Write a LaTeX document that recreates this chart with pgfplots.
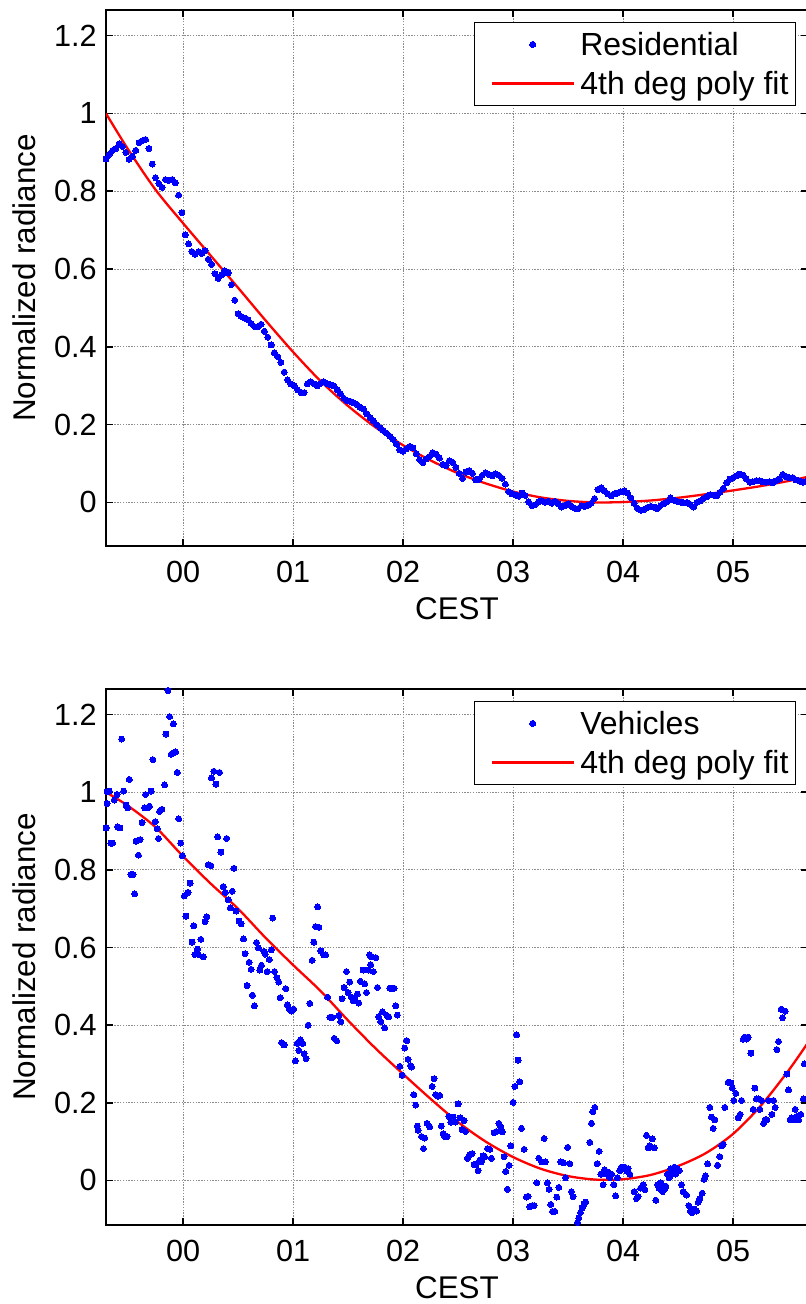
\documentclass[border=0pt]{standalone}
\usepackage{fontspec}
\setmainfont{Liberation Sans}
\usepackage{pgfplots}
\pgfplotsset{compat=1.18}
\definecolor{mblue}{RGB}{0,0,255}
\definecolor{mred}{RGB}{255,0,0}
\pgfplotsset{
  mystyle/.style={
    scale only axis,
    width=351pt, height=268pt,
    xmin=-0.70, xmax=5.68,
    xtick={0,1,2,3,4,5},
    xticklabels={00,01,02,03,04,05},
    ytick={0,0.2,0.4,0.6,0.8,1,1.2},
    yticklabels={0,0.2,0.4,0.6,0.8,1,1.2},
    grid=major,
    grid style={black!45, line width=0.4pt, dash pattern=on 0.7pt off 0.7pt},
    tick align=inside,
    major tick length=3.5pt,
    tick style={black, line width=0.8pt},
    axis line style={black, line width=0.9pt},
    tick label style={font=\fontsize{15.3}{18}\selectfont},
    xticklabel style={anchor=base, yshift=-18.3pt},
    yticklabel style={anchor=east, inner sep=0pt, xshift=-4.5pt},
    every axis x label/.style={at={(axis description cs:0.5,-0.1364)}, anchor=base, font=\fontsize{15.7}{18}\selectfont},
    every axis y label/.style={at={(axis description cs:-0.1011,0.5)}, anchor=base, rotate=90, font=\fontsize{15.7}{18}\selectfont},
    xlabel={CEST}, ylabel={Normalized radiance},
    legend cell align=left,
    legend style={at={(0.983,0.978)}, anchor=north east, draw=black, line width=0.6pt, fill=white,
      inner xsep=1.75pt, inner ysep=1.25pt, font=\fontsize{16}{19}\selectfont,
      nodes={inner sep=1.75pt, text height=13.5pt, text depth=2.5pt}, column sep=1pt},
    legend image code/.code={\path (0pt,0pt); \draw[mark repeat=2,mark phase=2,#1] plot coordinates {(6.25pt,0pt) (26.75pt,0pt) (47.25pt,0pt)};},
  },
  scat/.style={only marks, mark=*, mark size=1.5pt, color=mblue, mark options={draw=mblue, fill=mblue, line width=0pt}},
  fit/.style={mred, line width=1.15pt, smooth, no marks},
}
\begin{document}
\begin{tikzpicture}
\begin{axis}[mystyle, at={(53pt,-5pt)}, anchor=north west, ymin=-0.112, ymax=1.266]
\addplot[scat] coordinates {
(-0.70,0.883) (-0.67,0.895) (-0.64,0.905) (-0.61,0.910) (-0.58,0.922) (-0.55,0.915) (-0.52,0.900) (-0.49,0.882)
(-0.46,0.890) (-0.43,0.905) (-0.40,0.925) (-0.37,0.930) (-0.34,0.933) (-0.31,0.910) (-0.28,0.870) (-0.25,0.835)
(-0.22,0.820) (-0.19,0.810) (-0.16,0.830) (-0.13,0.828) (-0.10,0.830) (-0.07,0.822) (-0.04,0.790) (-0.01,0.745)
(0.02,0.688) (0.05,0.665) (0.08,0.645) (0.11,0.638) (0.14,0.645) (0.17,0.640) (0.20,0.647) (0.23,0.625)
(0.26,0.612) (0.29,0.588) (0.32,0.576) (0.35,0.585) (0.38,0.595) (0.41,0.590) (0.44,0.560) (0.47,0.520)
(0.50,0.485) (0.53,0.478) (0.56,0.474) (0.59,0.470) (0.62,0.460) (0.65,0.452) (0.68,0.452) (0.71,0.458)
(0.74,0.440) (0.77,0.425) (0.80,0.405) (0.83,0.385) (0.86,0.375) (0.89,0.360) (0.92,0.335) (0.95,0.315)
(0.98,0.305) (1.01,0.300) (1.04,0.290) (1.07,0.283) (1.10,0.282) (1.13,0.305) (1.16,0.310) (1.19,0.305)
(1.22,0.300) (1.25,0.306) (1.28,0.310) (1.31,0.305) (1.34,0.302) (1.37,0.300) (1.40,0.290) (1.43,0.280)
(1.46,0.268) (1.49,0.262) (1.52,0.260) (1.55,0.256) (1.58,0.252) (1.61,0.245) (1.64,0.240) (1.67,0.228)
(1.70,0.218) (1.73,0.210) (1.76,0.200) (1.79,0.192) (1.82,0.185) (1.85,0.178) (1.88,0.170) (1.91,0.162)
(1.94,0.150) (1.97,0.135) (2.00,0.132) (2.03,0.138) (2.06,0.144) (2.09,0.140) (2.12,0.125) (2.15,0.110)
(2.18,0.102) (2.21,0.112) (2.24,0.118) (2.27,0.128) (2.30,0.124) (2.33,0.114) (2.36,0.098) (2.39,0.095)
(2.42,0.107) (2.45,0.103) (2.48,0.090) (2.51,0.075) (2.54,0.062) (2.57,0.078) (2.60,0.082) (2.63,0.075)
(2.66,0.058) (2.69,0.060) (2.72,0.070) (2.75,0.076) (2.78,0.072) (2.81,0.068) (2.84,0.074) (2.87,0.070)
(2.90,0.062) (2.93,0.047) (2.96,0.028) (2.99,0.022) (3.02,0.019) (3.05,0.016) (3.08,0.024) (3.11,0.018)
(3.14,0.002) (3.17,-0.008) (3.20,-0.006) (3.23,0.002) (3.26,0.004) (3.29,0.001) (3.32,0.003) (3.35,-0.002)
(3.38,0.003) (3.41,-0.004) (3.44,-0.012) (3.47,-0.008) (3.50,-0.004) (3.53,-0.010) (3.56,-0.015) (3.59,-0.016)
(3.62,-0.009) (3.65,-0.010) (3.68,-0.007) (3.71,-0.002) (3.74,0.010) (3.77,0.033) (3.80,0.038) (3.83,0.030)
(3.86,0.022) (3.89,0.017) (3.92,0.022) (3.95,0.024) (3.98,0.027) (4.01,0.030) (4.04,0.024) (4.07,0.012)
(4.10,-0.002) (4.13,-0.015) (4.16,-0.020) (4.19,-0.018) (4.22,-0.013) (4.25,-0.010) (4.28,-0.012) (4.31,-0.016)
(4.34,-0.008) (4.37,-0.003) (4.40,0.002) (4.43,0.012) (4.46,0.006) (4.49,0.003) (4.52,0.001) (4.55,-0.001)
(4.58,0.000) (4.61,-0.005) (4.64,-0.012) (4.67,0.000) (4.70,0.004) (4.73,0.010) (4.76,0.014) (4.79,0.020)
(4.82,0.019) (4.85,0.017) (4.88,0.026) (4.91,0.036) (4.94,0.050) (4.97,0.060) (5.00,0.064) (5.03,0.068)
(5.06,0.073) (5.09,0.070) (5.12,0.060) (5.15,0.052) (5.18,0.053) (5.21,0.056) (5.24,0.056) (5.27,0.053)
(5.30,0.052) (5.33,0.053) (5.36,0.050) (5.39,0.056) (5.42,0.060) (5.45,0.072) (5.48,0.066) (5.51,0.064)
(5.54,0.064) (5.57,0.058) (5.60,0.055) (5.63,0.052) (5.66,0.054)
};
\addlegendentry{Residential}
\addplot[fit] coordinates {
(-0.70,1.000) (-0.50,0.908) (-0.25,0.804) (0.00,0.718) (0.25,0.635) (0.50,0.552)
(0.75,0.468) (1.00,0.387) (1.25,0.312) (1.50,0.248) (1.75,0.193) (2.00,0.147) (2.25,0.108) (2.50,0.075)
(2.75,0.049) (3.00,0.028) (3.25,0.013) (3.50,0.004) (3.75,0.000) (4.00,0.001) (4.25,0.005) (4.50,0.012)
(4.75,0.021) (5.00,0.031) (5.25,0.042) (5.50,0.055) (5.68,0.066)
};
\addlegendentry{4th deg poly fit}
\end{axis}

\begin{axis}[mystyle, at={(53pt,-344.5pt)}, anchor=north west, ymin=-0.115, ymax=1.266]
\addplot[scat] coordinates {
(-0.699,0.908) (-0.69,1.001) (-0.69,0.971) (-0.67,1.003) (-0.655,0.869) (-0.64,0.869) (-0.625,0.980) (-0.60,0.994)
(-0.595,0.911) (-0.573,0.908) (-0.558,1.137) (-0.54,1.003) (-0.518,0.967) (-0.503,0.960) (-0.488,1.033) (-0.473,0.788)
(-0.454,0.788) (-0.439,0.738) (-0.427,0.874) (-0.405,0.838) (-0.39,0.878) (-0.372,0.922) (-0.35,0.960) (-0.341,0.994)
(-0.326,0.960) (-0.305,0.964) (-0.29,1.003) (-0.274,1.084) (-0.253,0.924) (-0.235,0.906) (-0.223,0.881) (-0.213,0.951)
(-0.192,0.956) (-0.168,1.019) (-0.155,1.150) (-0.137,1.262) (-0.122,1.195) (-0.107,1.098) (-0.088,1.176) (-0.082,1.102)
(-0.067,1.104) (-0.052,1.051) (-0.04,0.932) (-0.021,0.869) (-0.006,0.836) (0.012,0.733) (0.027,0.681) (0.046,0.742)
(0.064,0.766) (0.082,0.614) (0.098,0.656) (0.107,0.582) (0.131,0.596) (0.14,0.582) (0.162,0.621) (0.183,0.576)
(0.20,0.667) (0.216,0.679) (0.229,0.813) (0.253,0.811) (0.259,1.037) (0.28,1.054) (0.299,1.021) (0.314,0.885)
(0.332,1.051) (0.345,0.846) (0.366,0.757) (0.384,0.742) (0.396,0.881) (0.41,0.723) (0.43,0.702) (0.448,0.745)
(0.463,0.804) (0.482,0.694) (0.509,0.668) (0.527,0.661) (0.549,0.622) (0.564,0.584) (0.582,0.502) (0.601,0.562)
(0.619,0.544) (0.631,0.477) (0.649,0.450) (0.668,0.613) (0.686,0.599) (0.698,0.542) (0.713,0.554) (0.735,0.590)
(0.747,0.583) (0.765,0.538) (0.784,0.569) (0.802,0.594) (0.814,0.676) (0.832,0.538) (0.854,0.522) (0.869,0.511)
(0.884,0.471) (0.896,0.355) (0.918,0.349) (0.933,0.494) (0.948,0.452) (0.966,0.441) (0.985,0.436) (1.006,0.441)
(1.021,0.308) (1.037,0.353) (1.052,0.335) (1.067,0.362) (1.088,0.353) (1.10,0.326) (1.119,0.314) (1.137,0.400)
(1.152,0.456) (1.174,0.567) (1.189,0.614) (1.204,0.654) (1.223,0.705) (1.235,0.652) (1.253,0.591) (1.277,0.581)
(1.296,0.581) (1.314,0.472) (1.335,0.420) (1.357,0.420) (1.375,0.366) (1.396,0.360) (1.415,0.425) (1.433,0.409)
(1.445,0.468) (1.464,0.497) (1.485,0.538) (1.50,0.484) (1.515,0.511) (1.53,0.472) (1.545,0.463) (1.56,0.466)
(1.585,0.480) (1.597,0.457) (1.612,0.513) (1.636,0.542) (1.652,0.506) (1.667,0.484) (1.682,0.542) (1.697,0.581)
(1.705,0.556) (1.712,0.576) (1.73,0.538) (1.752,0.574) (1.767,0.497) (1.779,0.421) (1.797,0.409) (1.812,0.434)
(1.833,0.393) (1.852,0.425) (1.87,0.421) (1.879,0.495) (1.90,0.495) (1.918,0.495) (1.933,0.450) (1.948,0.426)
(1.97,0.294) (1.991,0.271) (2.015,0.341) (2.033,0.360) (2.045,0.312) (2.067,0.296) (2.076,0.292) (2.097,0.221)
(2.115,0.194) (2.13,0.140) (2.136,0.129) (2.167,0.113) (2.185,0.082) (2.197,0.109) (2.218,0.147) (2.242,0.138)
(2.264,0.242) (2.282,0.262) (2.297,0.221) (2.318,0.217) (2.333,0.219) (2.348,0.140) (2.364,0.120) (2.379,0.113)
(2.40,0.113) (2.415,0.165) (2.433,0.150) (2.455,0.163) (2.476,0.150) (2.50,0.197) (2.518,0.161) (2.536,0.131)
(2.555,0.154) (2.567,0.126) (2.585,0.057) (2.606,0.066) (2.627,0.069) (2.645,0.041) (2.664,0.041) (2.682,0.025)
(2.697,0.052) (2.712,0.048) (2.727,0.063) (2.742,0.060) (2.767,0.082) (2.788,0.080) (2.803,0.057) (2.827,0.123)
(2.848,0.126) (2.87,0.147) (2.888,0.138) (2.90,0.125) (2.918,0.061) (2.933,0.023) (2.948,-0.023) (2.964,0.039)
(2.979,0.089) (3.00,0.201) (3.015,0.242) (3.033,0.375) (3.045,0.310) (3.061,0.254) (3.076,0.134) (3.10,0.080)
(3.121,-0.043) (3.136,-0.041) (3.152,-0.068) (3.173,-0.065) (3.191,-0.065) (3.215,-0.006) (3.233,0.057) (3.258,0.048)
(3.282,0.108) (3.294,0.048) (3.312,-0.006) (3.327,-0.023) (3.342,-0.062) (3.358,-0.080) (3.379,-0.080) (3.397,-0.043)
(3.415,-0.018) (3.433,0.048) (3.455,0.045) (3.476,0.007) (3.495,0.085) (3.515,0.043) (3.53,-0.029) (3.545,-0.042)
(3.585,-0.108) (3.597,-0.097) (3.612,-0.083) (3.627,-0.071) (3.645,-0.061) (3.66,-0.056) (3.697,0.098) (3.712,0.147)
(3.724,0.177) (3.742,0.188) (3.764,0.043) (3.782,0.075) (3.797,0.016) (3.818,-0.011) (3.833,0.027) (3.848,0.016)
(3.864,0.021) (3.879,0.007) (3.894,0.016) (3.915,-0.011) (3.933,-0.040) (3.948,0.007) (3.97,0.025) (3.985,0.034)
(4.00,0.030) (4.015,0.034) (4.03,0.025) (4.045,0.030) (4.061,0.016) (4.10,-0.029) (4.121,-0.047) (4.136,-0.042)
(4.158,-0.020) (4.182,-0.011) (4.197,-0.024) (4.212,0.116) (4.227,0.084) (4.242,0.089) (4.264,0.107) (4.282,0.084)
(4.297,-0.051) (4.312,-0.011) (4.327,-0.020) (4.342,-0.006) (4.358,-0.029) (4.373,-0.024) (4.388,-0.015) (4.403,0.016)
(4.418,0.007) (4.433,0.030) (4.448,0.016) (4.464,0.034) (4.476,0.016) (4.494,0.030) (4.509,0.025) (4.53,-0.011)
(4.545,-0.029) (4.576,-0.038) (4.597,-0.065) (4.612,-0.079) (4.627,-0.083) (4.645,-0.074) (4.667,-0.079) (4.682,-0.056)
(4.697,-0.047) (4.718,-0.033) (4.736,0.003) (4.748,0.012) (4.767,0.043) (4.788,0.188) (4.803,0.163) (4.818,0.134)
(4.833,0.156) (4.858,0.039) (4.879,0.061) (4.894,0.089) (4.909,0.093) (4.924,0.188) (4.955,0.253) (4.979,0.251)
(4.991,0.238) (5.006,0.206) (5.024,0.224) (5.045,0.161) (5.064,0.170) (5.076,0.206) (5.091,0.364) (5.106,0.369)
(5.121,0.364) (5.136,0.369) (5.161,0.328) (5.182,0.183) (5.197,0.238) (5.212,0.210) (5.227,0.210) (5.242,0.183)
(5.258,0.206) (5.276,0.147) (5.291,0.156) (5.306,0.156) (5.321,0.206) (5.352,0.170) (5.367,0.206) (5.382,0.188)
(5.397,0.337) (5.412,0.358) (5.436,0.441) (5.448,0.419) (5.473,0.436) (5.488,0.274) (5.503,0.233) (5.518,0.156)
(5.533,0.161) (5.548,0.156) (5.564,0.183) (5.579,0.165) (5.594,0.156) (5.615,0.170) (5.639,0.210) (5.648,0.300)
};
\addlegendentry{Vehicles}
\addplot[fit] coordinates {
(-0.70,1.000) (-0.50,0.965) (-0.25,0.910) (0.00,0.835) (0.25,0.765) (0.50,0.700) (0.75,0.625) (1.00,0.555)
(1.25,0.488) (1.50,0.412) (1.75,0.340) (2.00,0.274) (2.25,0.210) (2.50,0.150) (2.75,0.100) (3.00,0.060)
(3.25,0.030) (3.50,0.011) (3.75,0.002) (4.00,0.003) (4.25,0.014) (4.50,0.037) (4.75,0.070) (5.00,0.120)
(5.25,0.192) (5.50,0.282) (5.68,0.355)
};
\addlegendentry{4th deg poly fit}
\end{axis}
\pgfresetboundingbox
\path[use as bounding box] (0pt,0pt) rectangle (403pt,-652pt);
\end{tikzpicture}
\end{document}
